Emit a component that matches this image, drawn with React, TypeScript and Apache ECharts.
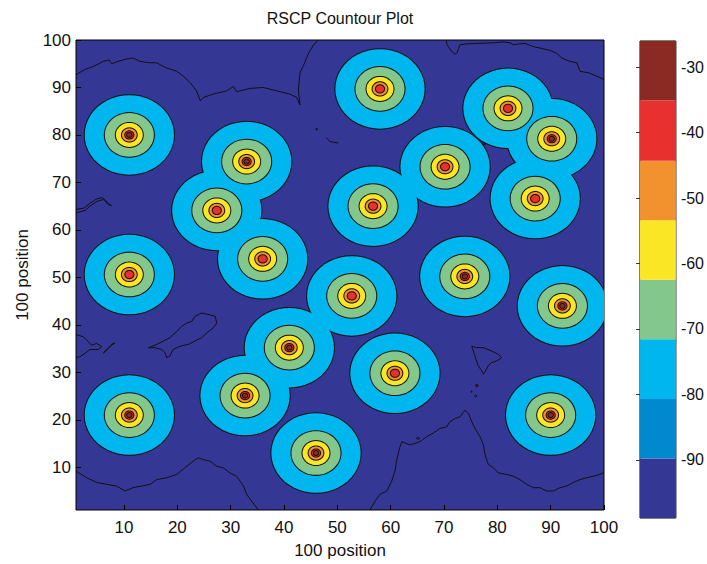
import { useEffect, useRef } from "react";
import * as echarts from "echarts";

// Node B site positions on the 100 x 100 grid
const siteX = [11, 58, 82, 90.2, 33, 70.2, 27.4, 56.7, 87.1, 11, 36, 73.9, 52.7, 92.2, 41, 60.8, 32.7, 11, 90, 46];
const siteY = [80, 89.7, 85.6, 79.2, 74.4, 73.3, 64.1, 65, 66.6, 50.6, 53.9, 50.2, 46.1, 44, 35.2, 29.8, 25.1, 21, 21, 13];
// Peak RSCP (dBm) reached at each site centre
const sitePeak = [-30, -40, -40, -30, -30, -38, -40, -40, -40, -40, -40, -30, -40, -30, -30, -40, -30, -30, -30, -30];

// Log-distance propagation: RSCP = refRscp - slope * log10(d)
const refRscp = -48.4;
const slope = 35;

// Contour levels (dBm) and the colour of each band above a level
const levels = [-98.9, -89.8, -80.7, -71.6, -62.5, -53.4, -44.3, -35.1, -26.0];
const bandColors = ["#343894", "#0089cf", "#00b6ee", "#83c78d", "#fbe625", "#f2922e", "#e8302e", "#8b2a23"];
const colorbarTicks = [-90, -80, -70, -60, -50, -40, -30];
const axisTicks = [10, 20, 30, 40, 50, 60, 70, 80, 90, 100];

// Background contour traces in the fringe area
const bgTopLeft = [[1, 92.7], [2.7, 93.8], [4.2, 94.4], [6.1, 95.5], [7.2, 95.8], [7.7, 95.0], [8.6, 95.4], [10.5, 96.0], [11.7, 96.2], [13.0, 95.5], [14.9, 95.2], [16.1, 95.2], [18.0, 94.1], [19.9, 93.4], [21.1, 92.4], [22.4, 91.0], [23.6, 89.3], [24.3, 87.2], [24.9, 87.9], [26.7, 88.6], [29.3, 89.3], [30.5, 90.2], [31.1, 89.1], [33.6, 89.8], [36.1, 90.0], [38.6, 89.3], [41.1, 88.6], [42.4, 87.9], [43.0, 86.3], [42.7, 89.6], [43.0, 93.1], [43.6, 94.5], [44.6, 97.2], [45.5, 98.9], [46.4, 100]];
const bgTopRight = [[70.4, 100], [70.6, 99.0], [71.4, 97.6], [72.1, 97.0], [72.5, 97.4], [72.75, 98.3], [73.0, 99.0], [74.3, 99.2], [76.75, 99.3], [79.25, 99.4], [81.1, 99.6], [82.4, 99.4], [83.0, 99.0], [84.25, 99.2], [85.2, 99.3], [86.75, 98.6], [88.0, 98.3], [89.9, 97.8], [91.1, 97.2], [92.1, 96.2], [93.6, 95.5], [94.9, 95.2], [95.5, 93.4], [97.1, 93.1], [98.6, 92.4], [100, 91.7]];
const bgLeftDash = [[1, 63.6], [2.7, 64.1], [3.6, 65.0], [4.9, 66.0], [6.1, 66.4], [7.1, 65.3], [7.7, 65.1], [7.1, 65.6], [6.0, 66.8], [4.8, 66.5], [3.5, 65.5], [2.5, 64.6], [1, 64.3]];
const bgLeftBlob = [[1, 37.96], [2.37, 37.5], [3.0, 36.8], [3.94, 35.7], [4.88, 36.1], [5.8, 35.4], [5.2, 34.8], [3.6, 34.8], [2.7, 34.0], [1.75, 33.3], [1, 33.1]];
const bgLeftSliver = [[6.1, 34.0], [7.4, 35.5], [8.3, 36.2], [7.7, 35.9], [6.4, 34.3], [6.1, 34.0]];
const bgIslandLeft = [[14.56, 35.17], [16.13, 35.87], [17.4, 36.6], [18.6, 37.3], [19.9, 38.6], [20.8, 39.7], [21.8, 40.4], [22.7, 40.7], [23.3, 41.8], [24.6, 42.5], [26.1, 42.1], [27.1, 41.8], [27.4, 40.4], [26.7, 39.3], [25.5, 38.3], [24.6, 37.3], [23.3, 36.6], [22.1, 35.9], [20.5, 35.5], [19.2, 34.8], [18.6, 33.4], [18.0, 33.1], [17.7, 34.1], [17.1, 34.8], [15.8, 35.2], [14.56, 35.17]];
const bgBottomLeft = [[1, 9.17], [3.0, 7.8], [4.9, 6.8], [6.76, 6.4], [8.6, 6.05], [10.2, 5.0], [11.7, 5.7], [13.3, 6.05], [14.9, 6.4], [16.1, 7.4], [18.0, 7.8], [19.9, 8.5], [21.4, 9.9], [23.0, 11.3], [23.9, 12.0], [24.9, 11.6], [26.1, 11.3], [27.4, 10.2], [28.6, 9.9], [29.9, 8.8], [31.1, 8.1], [31.75, 7.1], [32.4, 6.05], [33.0, 4.3], [33.9, 2.9], [35.2, 1]];
const bgBottomRight = [[56.1, 1], [57.1, 2.9], [58.0, 4.3], [59.3, 5.0], [60.2, 7.1], [60.8, 9.2], [61.1, 11.3], [61.75, 14.4], [62.1, 15.4], [63.6, 14.7], [65.5, 15.4], [66.75, 16.45], [68.0, 17.2], [69.25, 18.2], [70.5, 18.5], [71.1, 19.6], [72.1, 20.3], [73.0, 20.6], [73.9, 22.0], [74.6, 21.3], [75.2, 19.6], [75.8, 18.2], [76.75, 16.45], [77.4, 14.7], [77.7, 12.6], [78.3, 10.6], [79.25, 9.9], [80.2, 8.8], [81.75, 8.5], [83.0, 8.1], [84.25, 7.4], [85.5, 6.4], [86.75, 5.7], [88.0, 5.7], [89.25, 5.0], [90.5, 5.0], [91.75, 5.7], [93.0, 6.05], [94.25, 6.8], [95.5, 7.4], [96.75, 7.8], [98.0, 8.1], [99.25, 8.5], [100, 8.9]];
const bgIslandRight = [[75.2, 35.5], [76.1, 35.2], [77.4, 35.2], [78.9, 34.5], [80.2, 33.8], [80.8, 33.1], [79.9, 32.4], [78.9, 32.05], [78.3, 31.4], [78.0, 30.7], [77.4, 29.6], [77.1, 30.3], [76.4, 31.4], [76.1, 32.4], [75.8, 33.4], [75.5, 34.5], [75.2, 35.5]];
const bgSpecks = [
  [[48.0, 79.4], [48.6, 78.6], [50.2, 78.3]],
  [[46.0, 81.4], [46.3, 81.2], [46.1, 81.0], [46.0, 81.4]],
  [[76.0, 79.5], [76.5, 79.2], [76.1, 78.9], [76.0, 79.5]],
  [[77.3, 78.4], [77.8, 78.1], [77.3, 77.8], [77.3, 78.4]],
  [[64.0, 68.3], [64.4, 68.0], [64.0, 67.7], [64.0, 68.3]],
  [[76.0, 27.5], [76.5, 27.2], [76.0, 26.9], [76.0, 27.5]],
  [[75.1, 26.1], [75.3, 25.9], [75.1, 25.8], [75.1, 26.1]],
  [[75.9, 25.2], [76.2, 25.0], [75.9, 24.8], [75.7, 25.0], [75.9, 25.2]],
  [[65.0, 16.3], [65.5, 16.1], [65.0, 15.9], [64.8, 16.1], [65.0, 16.3]],
];

const FONT = "'Liberation Sans', Arial, Helvetica, sans-serif";
const TEXT = "#111111";
const LINE = "#111111";

export default function App() {
  const ref = useRef<HTMLDivElement>(null);

  useEffect(() => {
    if (!ref.current) return;
    const chart = echarts.init(ref.current, undefined, { renderer: "svg" });

    // Site bands: each level drawn twice (outlined, then fill only) so
    // overlapping cells merge into a single outline.
    const siteData: number[][] = [];
    for (let k = 2; k < levels.length - 1; k++) {
      for (let pass = 0; pass < 2; pass++) {
        for (let s = 0; s < siteX.length; s++) {
          siteData.push([siteX[s], siteY[s], k, pass, sitePeak[s]]);
        }
      }
    }

    const colorbarData = bandColors.map((_, k) => [0.5, levels[k], levels[k + 1], k]);

    const bgTraces = [bgTopLeft, bgTopRight, bgLeftDash, bgLeftBlob, bgLeftSliver, bgIslandLeft, bgBottomLeft, bgBottomRight, bgIslandRight, ...bgSpecks];

    const tickLabel = { fontFamily: FONT, fontSize: 17, color: TEXT };

    chart.setOption({
      animation: false,
      graphic: [
        {
          type: "text",
          x: 340,
          y: 10,
          style: { text: "RSCP Countour Plot", font: `16px ${FONT}`, fill: TEXT, textAlign: "center" },
        },
      ],
      grid: [
        { left: 76, top: 40, width: 528, height: 476, show: true, backgroundColor: bandColors[0], borderColor: "#000", borderWidth: 1, containLabel: false },
        { left: 640, top: 41, width: 36, height: 477, show: true, backgroundColor: "transparent", borderColor: "#000", borderWidth: 1, containLabel: false },
      ],
      xAxis: [
        {
          type: "value", gridIndex: 0, min: 1, max: 100,
          name: "100 position", nameLocation: "middle", nameGap: 32,
          nameTextStyle: { fontFamily: FONT, fontSize: 17, color: TEXT },
          axisLine: { show: false },
          axisTick: { show: true, inside: true, length: 5, lineStyle: { color: "#000" }, customValues: axisTicks },
          axisLabel: { ...tickLabel, margin: 9, customValues: axisTicks },
          splitLine: { show: false },
        },
        { type: "value", gridIndex: 1, min: 0, max: 1, show: false },
      ],
      yAxis: [
        {
          type: "value", gridIndex: 0, min: 1, max: 100,
          name: "100 position", nameLocation: "middle", nameGap: 45, nameRotate: 90,
          nameTextStyle: { fontFamily: FONT, fontSize: 17, color: TEXT },
          axisLine: { show: false },
          axisTick: { show: true, inside: true, length: 5, lineStyle: { color: "#000" }, customValues: axisTicks },
          axisLabel: { ...tickLabel, margin: 5, customValues: axisTicks },
          splitLine: { show: false },
        },
        {
          type: "value", gridIndex: 1, min: -98.9, max: -26.0, position: "right",
          axisLine: { show: false },
          axisTick: { show: true, inside: true, length: 4, lineStyle: { color: "#333" }, customValues: colorbarTicks },
          axisLabel: { ...tickLabel, fontSize: 16, margin: 5, customValues: colorbarTicks },
          splitLine: { show: false },
        },
        {
          type: "value", gridIndex: 1, min: -98.9, max: -26.0, position: "left",
          axisLine: { show: false },
          axisTick: { show: true, inside: true, length: 4, lineStyle: { color: "#333" }, customValues: colorbarTicks },
          axisLabel: { show: false },
          splitLine: { show: false },
        },
      ],
      series: [
        ...bgTraces.map((trace) => ({
          type: "line",
          xAxisIndex: 0,
          yAxisIndex: 0,
          data: trace,
          showSymbol: false,
          symbol: "none",
          silent: true,
          z: 2,
          lineStyle: { color: LINE, width: 1 },
        })),
        {
          type: "custom",
          xAxisIndex: 0,
          yAxisIndex: 0,
          data: siteData,
          encode: { x: 0, y: 1 },
          clip: true,
          silent: true,
          z: 3,
          renderItem: (_params: any, api: any) => {
            const cx = api.value(0);
            const cy = api.value(1);
            const k = api.value(2);
            const pass = api.value(3);
            const peak = api.value(4);
            const lvl = levels[k];
            if (lvl >= peak) return null;
            const r = Math.pow(10, (refRscp - lvl) / slope);
            const n = 48;
            const pts: number[][] = [];
            for (let i = 0; i < n; i++) {
              const a = (2 * Math.PI * i) / n;
              pts.push(api.coord([cx + r * Math.cos(a), cy + r * Math.sin(a)]));
            }
            return {
              type: "polygon",
              shape: { points: pts },
              style: pass === 0
                ? { fill: bandColors[k], stroke: LINE, lineWidth: 2 }
                : { fill: bandColors[k], stroke: null, lineWidth: 0 },
            };
          },
        },
        {
          type: "custom",
          xAxisIndex: 1,
          yAxisIndex: 1,
          data: colorbarData,
          encode: { x: 0, y: 1 },
          silent: true,
          z: 1,
          renderItem: (_params: any, api: any) => {
            const lo = api.value(1);
            const hi = api.value(2);
            const k = api.value(3);
            const p1 = api.coord([0, hi]);
            const p2 = api.coord([1, lo]);
            return {
              type: "rect",
              shape: { x: p1[0], y: p1[1], width: p2[0] - p1[0], height: p2[1] - p1[1] },
              style: { fill: bandColors[k] },
            };
          },
        },
      ],
    });

    return () => chart.dispose();
  }, []);

  return (
    <div
      ref={ref}
      style={{ position: "fixed", left: 0, top: 0, width: 707, height: 564, background: "#fff" }}
    />
  );
}
